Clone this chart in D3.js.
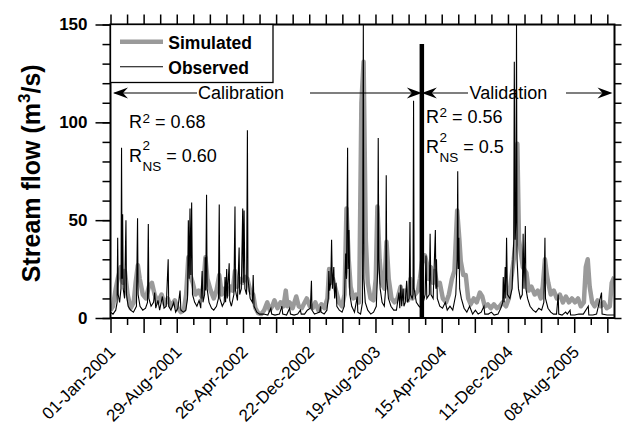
<!DOCTYPE html>
<html>
<head>
<meta charset="utf-8">
<script src="https://cdn.jsdelivr.net/npm/d3@7"></script>
<style>
  body { margin: 0; background: #fff; }
  svg { display: block; }
  text { font-family: "Liberation Sans", Arial, Helvetica, sans-serif; fill: #000; }
</style>
</head>
<body>
<svg id="chart" width="631" height="427"></svg>
<script>
// ---- Observed daily stream flow (m3/s), key points of the hydrograph ----
const obsDate = [
  // 2001
  "2001-01-01","2001-01-10","2001-01-20","2001-01-25","2001-01-27","2001-01-29","2001-02-03","2001-02-08","2001-02-10","2001-02-12",
  "2001-02-14","2001-02-16","2001-02-21","2001-02-26","2001-02-28","2001-03-06","2001-03-15","2001-03-25","2001-04-05","2001-04-09",
  "2001-04-11","2001-04-18","2001-04-28","2001-05-08","2001-05-15","2001-05-18","2001-05-20","2001-05-28","2001-06-06","2001-06-10",
  "2001-06-14","2001-06-22","2001-06-28","2001-07-08","2001-07-14","2001-07-22","2001-07-29","2001-07-31","2001-08-08","2001-08-18",
  "2001-08-25","2001-09-02","2001-09-10","2001-09-13","2001-09-22","2001-10-01","2001-10-07","2001-10-10","2001-10-13","2001-10-16",
  "2001-10-19","2001-10-22","2001-10-25","2001-11-02","2001-11-10","2001-11-18","2001-11-24","2001-11-29","2001-12-02","2001-12-08",
  "2001-12-10","2001-12-12","2001-12-15","2001-12-17","2001-12-24",
  // 2002
  "2002-01-02","2002-01-10","2002-01-20","2002-01-27","2002-01-30","2002-02-01","2002-02-10","2002-02-17","2002-02-20","2002-02-22",
  "2002-02-26","2002-02-28","2002-03-07","2002-03-09","2002-03-15","2002-03-24","2002-03-28","2002-03-30","2002-04-06","2002-04-12",
  "2002-04-14","2002-04-20","2002-04-25","2002-04-27","2002-04-30","2002-05-03","2002-05-09","2002-05-12","2002-05-14","2002-05-22",
  "2002-05-30","2002-06-02","2002-06-05","2002-06-15","2002-06-25","2002-07-10","2002-07-25","2002-08-05","2002-08-08","2002-08-20",
  "2002-09-05","2002-09-14","2002-09-17","2002-10-01","2002-10-12","2002-10-15","2002-10-28","2002-11-10","2002-11-20","2002-11-23",
  "2002-12-05","2002-12-15","2002-12-26","2002-12-30",
  // 2003
  "2003-01-01","2003-01-10","2003-01-20","2003-01-29","2003-02-01","2003-02-03","2003-02-14","2003-02-24","2003-03-01","2003-03-03",
  "2003-03-06","2003-03-10","2003-03-13","2003-03-16","2003-03-21","2003-03-24","2003-03-29","2003-04-01","2003-04-10","2003-04-20",
  "2003-04-28","2003-05-03","2003-05-06","2003-05-10","2003-05-12","2003-05-15","2003-05-18","2003-05-25","2003-06-04","2003-06-14",
  "2003-06-16","2003-06-26","2003-07-03","2003-07-06","2003-07-08","2003-07-13","2003-07-22","2003-08-02","2003-08-12","2003-08-22",
  "2003-08-27","2003-08-29","2003-08-31","2003-09-05","2003-09-12","2003-09-20","2003-09-25","2003-09-27","2003-09-29","2003-10-05",
  "2003-10-14","2003-10-24","2003-11-03","2003-11-12","2003-11-15","2003-11-19","2003-11-22","2003-11-27","2003-11-30","2003-12-05",
  "2003-12-10","2003-12-13","2003-12-19","2003-12-22","2003-12-24","2003-12-30",
  // 2004
  "2004-01-02","2004-01-04","2004-01-06","2004-01-14","2004-01-24","2004-02-01","2004-02-08","2004-02-15","2004-02-18","2004-02-21",
  "2004-03-01","2004-03-04","2004-03-07","2004-03-15","2004-03-23","2004-03-25","2004-03-27","2004-03-30","2004-04-08","2004-04-18",
  "2004-04-28","2004-05-05","2004-05-15","2004-05-25","2004-06-05","2004-06-10","2004-06-12","2004-06-14","2004-06-16","2004-06-19",
  "2004-06-25","2004-07-05","2004-07-15","2004-07-25","2004-08-05","2004-08-15","2004-08-25","2004-09-05","2004-09-15","2004-09-18",
  "2004-10-01","2004-10-12","2004-10-22","2004-11-05","2004-11-15","2004-11-22","2004-11-24","2004-11-27","2004-12-01","2004-12-03",
  "2004-12-06","2004-12-09","2004-12-18","2004-12-26",
  // 2005
  "2005-01-01","2005-01-03","2005-01-06","2005-01-09","2005-01-11","2005-01-13","2005-01-18","2005-01-25","2005-02-01","2005-02-04",
  "2005-02-07","2005-02-12","2005-02-14","2005-02-20","2005-03-01","2005-03-12","2005-03-22","2005-04-02","2005-04-12","2005-04-20",
  "2005-04-24","2005-04-26","2005-05-05","2005-05-15","2005-05-25","2005-06-05","2005-06-11","2005-06-13","2005-06-25","2005-07-08",
  "2005-07-14","2005-07-24","2005-07-26","2005-08-10","2005-08-25","2005-09-10","2005-09-28","2005-09-30","2005-10-15","2005-10-28",
  "2005-11-15","2005-11-17","2005-12-05","2005-12-20","2005-12-31"
];
const obsFlow = [
  // 2001
  3, 2, 4, 8, 41, 12, 8, 15, 87, 20,
  53, 15, 10, 50, 12, 6, 4, 3, 6, 51,
  12, 6, 4, 5, 8, 48, 10, 6, 8, 13,
  5, 9, 4, 11, 5, 6, 30, 6, 4, 8,
  3, 5, 14, 4, 3, 4, 10, 50, 20, 56,
  22, 59, 12, 8, 6, 9, 5, 24, 8, 12,
  31, 14, 63, 15, 8,
  // 2002
  5, 4, 6, 10, 58, 10, 6, 8, 21, 8,
  25, 10, 28, 9, 6, 12, 57, 14, 9, 36,
  12, 15, 56, 18, 55, 15, 12, 96, 20, 10,
  8, 22, 6, 3, 2, 2, 1.5, 5, 2, 1.5,
  2, 6, 2, 1.5, 5, 2, 1.5, 2, 4, 2,
  2, 4, 5, 19,
  // 2003
  4, 2, 2.5, 3, 6, 3, 2, 4, 10, 24,
  14, 18, 40, 15, 26, 10, 18, 6, 4, 3,
  6, 33, 20, 87, 25, 45, 12, 6, 3, 11,
  3, 2, 8, 150, 20, 8, 4, 2, 3, 6,
  25, 92, 30, 15, 8, 6, 15, 73, 20, 10,
  6, 4, 4, 13, 5, 17, 6, 15, 6, 8,
  19, 8, 10, 49, 12, 10,
  // 2004
  12, 111, 15, 8, 6, 5, 8, 12, 32, 10,
  12, 43, 12, 10, 45, 15, 30, 10, 6, 5,
  8, 4, 6, 4, 12, 30, 75, 25, 41, 15,
  10, 5, 3, 6, 2, 4, 2, 3, 6, 2,
  2, 3, 1.5, 2, 5, 8, 21, 8, 26, 10,
  41, 12, 10, 15,
  // 2005
  40, 131, 40, 50, 150, 30, 15, 10, 12, 43,
  15, 47, 15, 10, 6, 4, 3, 5, 4, 8,
  41, 10, 5, 3, 2, 2, 12, 2, 1.5, 3,
  2, 4, 1.5, 1.5, 2, 2, 6, 1.5, 1.5, 2,
  13, 2, 1.5, 1.5, 1.5
];

// ---- Simulated stream flow (m3/s) ----
const simDate = [
  // 2001
  "2001-01-01","2001-01-10","2001-01-20","2001-01-27","2001-02-07","2001-02-15","2001-02-22","2001-03-04","2001-03-15","2001-03-26",
  "2001-04-02","2001-04-10","2001-04-17","2001-04-28","2001-05-09","2001-05-20","2001-05-31","2001-06-10","2001-06-21","2001-07-05",
  "2001-07-16","2001-07-27","2001-08-07","2001-08-22","2001-09-02","2001-09-13","2001-09-24","2001-10-02","2001-10-10","2001-10-17",
  "2001-10-26","2001-11-05","2001-11-16","2001-11-27","2001-12-04","2001-12-11","2001-12-18","2001-12-30",
  // 2002
  "2002-01-10","2002-01-20","2002-01-30","2002-02-08","2002-02-19","2002-03-01","2002-03-12","2002-03-20","2002-03-28","2002-04-05",
  "2002-04-15","2002-04-26","2002-05-03","2002-05-12","2002-05-22","2002-06-02","2002-06-10","2002-06-20","2002-07-01","2002-07-12",
  "2002-07-23","2002-08-01","2002-08-10","2002-08-18","2002-08-29","2002-09-09","2002-09-20","2002-09-28","2002-10-04","2002-10-12",
  "2002-10-23","2002-11-05","2002-11-14","2002-11-25","2002-12-04","2002-12-13","2002-12-24",
  // 2003
  "2003-01-03","2003-01-13","2003-01-24","2003-02-04","2003-02-15","2003-02-26","2003-03-04","2003-03-11","2003-03-18","2003-03-29",
  "2003-04-09","2003-04-20","2003-04-29","2003-05-06","2003-05-14","2003-05-21","2003-05-31","2003-06-10","2003-06-21","2003-06-29",
  "2003-07-07","2003-07-15","2003-07-22","2003-08-01","2003-08-12","2003-08-20","2003-08-26","2003-09-03","2003-09-10","2003-09-20",
  "2003-09-28","2003-10-06","2003-10-16","2003-10-27","2003-11-07","2003-11-18","2003-11-25","2003-12-05","2003-12-15","2003-12-24",
  "2003-12-31",
  // 2004
  "2004-01-09","2004-01-20","2004-01-27","2004-02-05","2004-02-14","2004-02-21","2004-02-28","2004-03-07","2004-03-14","2004-03-21",
  "2004-03-29","2004-04-08","2004-04-19","2004-05-01","2004-05-11","2004-05-22","2004-05-31","2004-06-10","2004-06-18","2004-06-23",
  "2004-07-02","2004-07-11","2004-07-20","2004-07-29","2004-08-09","2004-08-20","2004-08-31","2004-09-09","2004-09-18","2004-09-29",
  "2004-10-10","2004-10-21","2004-11-01","2004-11-11","2004-11-22","2004-12-04","2004-12-14","2004-12-23",
  // 2005
  "2005-01-01","2005-01-08","2005-01-14","2005-01-20","2005-02-03","2005-02-16","2005-02-24","2005-03-06","2005-03-18","2005-03-29",
  "2005-04-09","2005-04-16","2005-04-24","2005-05-01","2005-05-06","2005-05-15","2005-05-26","2005-06-06","2005-06-17","2005-06-28",
  "2005-07-09","2005-07-20","2005-07-31","2005-08-11","2005-08-22","2005-09-01","2005-09-12","2005-09-19","2005-09-26","2005-10-03",
  "2005-10-12","2005-10-21","2005-11-01","2005-11-12","2005-11-23","2005-12-04","2005-12-15","2005-12-22","2005-12-31"
];
const simFlow = [
  // 2001
  4, 6, 15, 20, 26, 18, 24, 12, 5, 8,
  18, 27, 20, 12, 10, 16, 18, 12, 8, 12,
  7, 10, 6, 9, 5, 3, 4, 12, 31, 22,
  18, 12, 14, 11, 18, 31, 20, 14,
  // 2002
  10, 14, 22, 12, 15, 12, 16, 14, 24, 16,
  20, 18, 21, 20, 14, 12, 5, 2.5, 2, 4,
  8, 4, 6, 9, 5, 8, 6, 14, 6, 8,
  5, 11, 6, 5, 7.5, 10, 6,
  // 2003
  5, 8, 4, 7, 5, 10, 25, 18, 20, 14,
  8, 6, 12, 56, 30, 16, 10, 12, 8, 110,
  131, 40, 18, 10, 9, 20, 57, 30, 18, 15,
  39, 20, 10, 8, 10, 16, 10, 14, 9, 20,
  10,
  // 2004
  12, 14, 20, 30, 32, 28, 20, 26, 18, 24,
  17, 18, 10, 8, 12, 20, 24, 55, 40, 29,
  22, 22, 10, 7, 10, 8, 13, 11, 6, 7,
  5, 7, 5, 6, 8, 6, 10, 20,
  // 2005
  30, 40, 89, 40, 26, 23, 14, 16, 12, 14,
  10, 16, 30, 22, 18, 12, 14, 10, 12, 8,
  11, 8, 10, 8, 10, 6, 8, 26, 30, 16,
  8, 6, 9, 6, 8, 5, 6, 18, 21
];

// Split between calibration and validation periods
const splitDate = "2004-02-03";
const splitFlow = 140;

// Axis settings
const periodStart = "2001-01-01";
const periodEnd = "2006-01-01";
const yMajorTicks = [0, 50, 100, 150];
const yMinorStep = 10;
const xTickStepDays = 60;      // small ticks
const xMajorStepDays = 120;    // long ticks
const xLabelStepDays = 240;    // labelled ticks

// Goodness-of-fit statistics
const calibStats = { r2: "0.68", rns: "0.60" };
const validStats = { r2: "0.56", rns: "0.5" };

// ---------------------------------------------------------------
const W = 631, H = 427;
const margin = { left: 110.5, right: 16.5, top: 24.5, bottom: 109 };
const parse = d3.utcParse("%Y-%m-%d");
const x0 = parse(periodStart), x1 = parse(periodEnd);

const x = d3.scaleUtc().domain([x0, x1]).range([margin.left, W - margin.right]);
const y = d3.scaleLinear().domain([0, 150]).range([H - margin.bottom, margin.top]);

const svg = d3.select("#chart");
const FONT = '"Liberation Sans", Arial, Helvetica, sans-serif';

const observed = obsDate.map((d, i) => ({ date: parse(d), v: obsFlow[i] }));
const simulated = simDate.map((d, i) => ({ date: parse(d), v: simFlow[i] }));

svg.append("clipPath").attr("id", "plotClip")
  .append("rect")
  .attr("x", margin.left).attr("y", margin.top - 1)
  .attr("width", W - margin.left - margin.right)
  .attr("height", H - margin.top - margin.bottom + 1);

const line = d3.line().x(d => x(d.date)).y(d => y(d.v));

const plot = svg.append("g").attr("clip-path", "url(#plotClip)");
plot.append("path").datum(simulated)
  .attr("d", line).attr("fill", "none")
  .attr("stroke", "#9a9a9a").attr("stroke-width", 4.5)
  .attr("stroke-linejoin", "round");
plot.append("path").datum(observed)
  .attr("d", line).attr("fill", "none")
  .attr("stroke", "#000").attr("stroke-width", 1.1)
  .attr("stroke-linejoin", "miter");

// divider bar between the two periods
plot.append("line")
  .attr("x1", x(parse(splitDate))).attr("x2", x(parse(splitDate)))
  .attr("y1", y(0)).attr("y2", y(splitFlow))
  .attr("stroke", "#000").attr("stroke-width", 4.5);

// ---- axes ----
const tickDays = d3.range(0, 1801, xTickStepDays);
const tickDates = tickDays.map(k => d3.utcDay.offset(x0, k));
const majorDates = tickDays.filter(k => k % xMajorStepDays === 0).map(k => d3.utcDay.offset(x0, k));
const minorDates = tickDays.filter(k => k % xMajorStepDays !== 0).map(k => d3.utcDay.offset(x0, k));
const labelDates = tickDays.filter(k => k % xLabelStepDays === 0).map(k => d3.utcDay.offset(x0, k));
const yMinor = d3.range(0, 151, yMinorStep);

function styleAxis(g) {
  g.select(".domain").remove();
  g.selectAll(".tick line").attr("stroke", "#000").attr("stroke-width", 1.5);
}

svg.append("g").attr("transform", `translate(0,${y(0)})`)
  .call(d3.axisBottom(x).tickValues(majorDates).tickSize(15).tickFormat(""))
  .call(styleAxis);
svg.append("g").attr("transform", `translate(0,${y(0)})`)
  .call(d3.axisBottom(x).tickValues(minorDates).tickSize(7).tickFormat(""))
  .call(styleAxis);
svg.append("g").attr("transform", `translate(0,${y(150)})`)
  .call(d3.axisTop(x).tickValues(tickDates).tickSize(10).tickFormat(""))
  .call(styleAxis);

svg.append("g").attr("transform", `translate(${x(x0)},0)`)
  .call(d3.axisLeft(y).tickValues(yMinor).tickSize(8).tickFormat(""))
  .call(styleAxis);
const yAxisG = svg.append("g").attr("transform", `translate(${x(x0)},0)`)
  .call(d3.axisLeft(y).tickValues(yMajorTicks).tickSize(15).tickPadding(8).tickFormat(d3.format("d")))
  .call(styleAxis);
yAxisG.selectAll(".tick text")
  .attr("font-family", FONT).attr("font-size", 17).attr("font-weight", "bold").attr("fill", "#000");

svg.append("g").attr("transform", `translate(${x(x1)},0)`)
  .call(d3.axisRight(y).tickValues(yMinor).tickSize(7).tickFormat(""))
  .call(styleAxis);

// rotated date labels
const fmt = d3.utcFormat("%d-%b-%Y");
svg.append("g").selectAll("text").data(labelDates).join("text")
  .attr("transform", d => `translate(${x(d) + 6},${y(0) + 35}) rotate(-45)`)
  .attr("text-anchor", "end")
  .attr("font-size", 17)
  .text(d => fmt(d));

// frame
svg.append("rect")
  .attr("x", margin.left).attr("y", margin.top)
  .attr("width", W - margin.left - margin.right)
  .attr("height", H - margin.top - margin.bottom)
  .attr("fill", "none").attr("stroke", "#000").attr("stroke-width", 2);

// y title
const yTitle = svg.append("text")
  .attr("transform", `translate(40,${(margin.top + y(0)) / 2 + 2}) rotate(-90)`)
  .attr("text-anchor", "middle")
  .attr("font-size", 25).attr("font-weight", "bold");
yTitle.append("tspan").text("Stream flow (m");
yTitle.append("tspan").attr("font-size", 17).attr("dy", -10).text("3");
yTitle.append("tspan").attr("dy", 10).text("/s)");

// ---- legend ----
const lg = svg.append("g");
lg.append("rect")
  .attr("x", margin.left).attr("y", margin.top)
  .attr("width", 162.5).attr("height", 58)
  .attr("fill", "#fff").attr("stroke", "#000").attr("stroke-width", 1.3);
lg.append("line").attr("x1", 120).attr("x2", 163).attr("y1", 41.7).attr("y2", 41.7)
  .attr("stroke", "#9a9a9a").attr("stroke-width", 4.5);
lg.append("line").attr("x1", 120).attr("x2", 163).attr("y1", 66.7).attr("y2", 66.7)
  .attr("stroke", "#000").attr("stroke-width", 1.1);
lg.append("text").attr("x", 168.3).attr("y", 49.3)
  .attr("font-size", 17.5).attr("font-weight", "bold").text("Simulated");
lg.append("text").attr("x", 168.3).attr("y", 74.3)
  .attr("font-size", 17.5).attr("font-weight", "bold").text("Observed");

// ---- period arrows ----
const ann = svg.append("g");
const arrowY = y(115);
const splitX = x(parse(splitDate));

function arrowHead(tipX, tipY, dir) {
  const L = 15, h = 5.5, n = 5;
  const p = [[tipX, tipY], [tipX - dir * L, tipY - h], [tipX - dir * (L - n), tipY], [tipX - dir * L, tipY + h]];
  ann.append("path").attr("d", "M" + p.map(q => q.join(",")).join("L") + "Z").attr("fill", "#000");
}
function seg(xa, xb) {
  ann.append("line").attr("x1", xa).attr("x2", xb).attr("y1", arrowY).attr("y2", arrowY)
    .attr("stroke", "#000").attr("stroke-width", 1.2);
}
// calibration
seg(x(x0) + 4, 197); arrowHead(x(x0) + 2.5, arrowY, -1);
ann.append("text").attr("x", 198).attr("y", arrowY + 6.5).attr("font-size", 18).text("Calibration");
seg(310, splitX - 3); arrowHead(splitX, arrowY, 1);
// validation
seg(splitX + 3, 468); arrowHead(splitX, arrowY, -1);
ann.append("text").attr("x", 469.5).attr("y", arrowY + 6.5).attr("font-size", 18).text("Validation");
seg(566, x(x1) - 4); arrowHead(x(x1) - 2, arrowY, 1);

// ---- statistics ----
function rLabel(xs, yBase, sub, value) {
  const t = ann.append("text").attr("x", xs).attr("y", yBase).attr("font-size", 18).text("R");
  const rw = t.node().getComputedTextLength();
  const sup = ann.append("text").attr("x", xs + rw + 0.5)
    .attr("y", yBase - (sub ? 11.5 : 5.5)).attr("font-size", 13.5).text("2");
  let w = sup.node().getComputedTextLength();
  if (sub) {
    const s = ann.append("text").attr("x", xs + rw + 0.5).attr("y", yBase + 9)
      .attr("font-size", 13.5).text(sub);
    w = Math.max(w, s.node().getComputedTextLength());
  }
  ann.append("text").attr("x", xs + rw + 0.5 + w).attr("y", yBase)
    .attr("font-size", 18).text("\u00a0=\u00a0" + value);
}
rLabel(129, 128.3, null, calibStats.r2);
rLabel(129, 161.7, "NS", calibStats.rns);
rLabel(426, 122.5, null, validStats.r2);
rLabel(426, 153, "NS", validStats.rns);

if (obsDate.length !== obsFlow.length || simDate.length !== simFlow.length) {
  console.warn("series length mismatch", obsDate.length, obsFlow.length, simDate.length, simFlow.length);
}
</script>
</body>
</html>
